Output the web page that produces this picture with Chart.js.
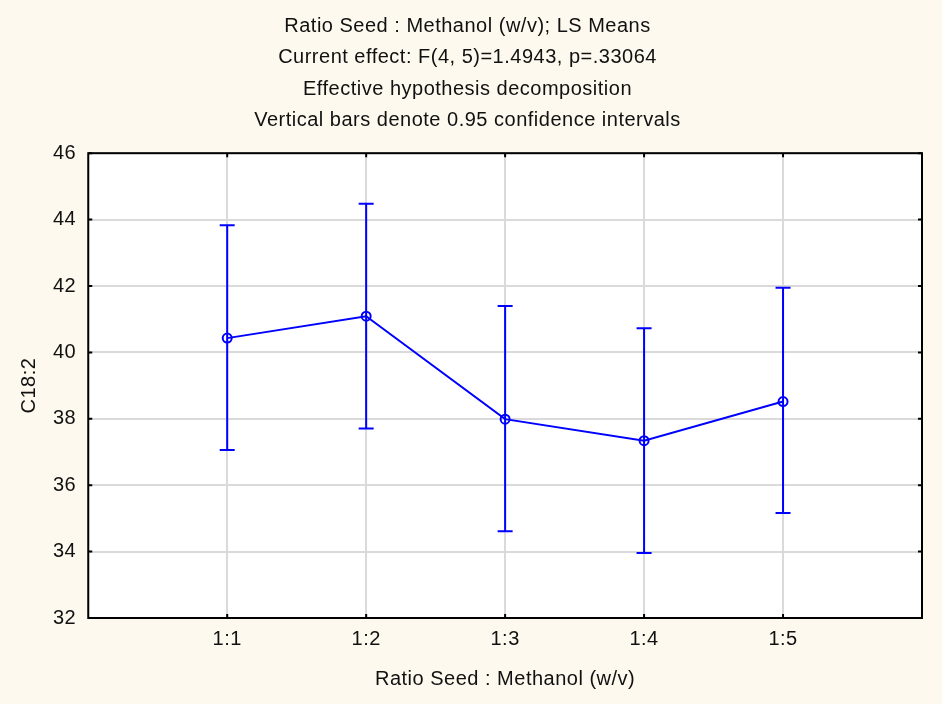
<!DOCTYPE html>
<html>
<head>
<meta charset="utf-8">
<script src="https://cdn.jsdelivr.net/npm/chart.js@4"></script>
<style>
  html, body { margin: 0; padding: 0; background: #fef9ee; }
  canvas { display: block; }
</style>
</head>
<body>
<canvas id="ls-chart" width="942" height="704"></canvas>
<script>
// LS means with 95% confidence intervals
const categories = ["1:1", "1:2", "1:3", "1:4", "1:5"];
const xPositions = [1, 2, 3, 4, 5];
const means = [40.43, 41.09, 37.99, 37.34, 38.52];
const upperCI = [43.83, 44.48, 41.40, 40.73, 41.95];
const lowerCI = [37.06, 37.71, 34.61, 33.96, 35.16];
const yTicks = [32, 34, 36, 38, 40, 42, 44, 46];

const titleLines = [
  "Ratio Seed : Methanol (w/v); LS Means",
  "Current effect: F(4, 5)=1.4943, p=.33064",
  "Effective hypothesis decomposition",
  "Vertical bars denote 0.95 confidence intervals"
];

const FONT = "'Liberation Sans', Arial, sans-serif";
const BLUE = "#0000ff";

// slightly wider text like the original renderer
const spacing = {
  id: "spacing",
  beforeLayout(c){ c.ctx.letterSpacing = "0.5px"; },
  beforeDraw(c){ c.ctx.letterSpacing = "0.5px"; }
};

// white plot area + black frame with inward ticks
const frame = {
  id: "frame",
  beforeDraw(c){
    const a = c.chartArea, ctx = c.ctx;
    ctx.save();
    ctx.fillStyle = "#ffffff";
    ctx.fillRect(a.left, a.top, a.right - a.left, a.bottom - a.top);
    ctx.restore();
  },
  afterDraw(c){
    const a = c.chartArea, ctx = c.ctx;
    const xs = c.scales.x, ys = c.scales.y;
    ctx.save();
    ctx.strokeStyle = "#000";
    ctx.lineWidth = 2;
    ctx.strokeRect(a.left, a.top, a.right - a.left, a.bottom - a.top);
    ctx.beginPath();
    yTicks.forEach(v => {
      const y = ys.getPixelForValue(v);
      ctx.moveTo(a.left, y); ctx.lineTo(a.left + 4, y);
      ctx.moveTo(a.right, y); ctx.lineTo(a.right - 4, y);
    });
    xPositions.forEach(v => {
      const x = xs.getPixelForValue(v);
      ctx.moveTo(x, a.bottom); ctx.lineTo(x, a.bottom - 4);
      ctx.moveTo(x, a.top); ctx.lineTo(x, a.top + 4);
    });
    ctx.stroke();
    ctx.restore();
  }
};

const errorBars = {
  id: "errorBars",
  afterDatasetsDraw(c){
    const ctx = c.ctx, xs = c.scales.x, ys = c.scales.y;
    ctx.save();
    ctx.strokeStyle = BLUE;
    ctx.lineWidth = 2;
    ctx.beginPath();
    xPositions.forEach((v, i) => {
      const x = xs.getPixelForValue(v);
      const yt = ys.getPixelForValue(upperCI[i]);
      const yb = ys.getPixelForValue(lowerCI[i]);
      ctx.moveTo(x, yt); ctx.lineTo(x, yb);
      ctx.moveTo(x - 7.5, yt); ctx.lineTo(x + 7.5, yt);
      ctx.moveTo(x - 7.5, yb); ctx.lineTo(x + 7.5, yb);
    });
    ctx.stroke();
    ctx.restore();
  }
};

new Chart(document.getElementById("ls-chart"), {
  type: "line",
  data: {
    datasets: [{
      data: xPositions.map((x, i) => ({ x, y: means[i] })),
      borderColor: BLUE,
      borderWidth: 2,
      pointRadius: 4.5,
      pointBorderWidth: 2,
      pointBorderColor: BLUE,
      pointBackgroundColor: "rgba(0,0,0,0)",
      tension: 0
    }]
  },
  options: {
    responsive: false,
    animation: false,
    layout: { padding: { left: 13, right: 20, top: 0, bottom: 13 } },
    plugins: {
      legend: { display: false },
      tooltip: { enabled: false },
      title: {
        display: true,
        text: titleLines,
        color: "#111",
        font: { family: FONT, size: 20, weight: "normal", lineHeight: 1.565 },
        padding: { top: 11, bottom: 17 }
      }
    },
    scales: {
      x: {
        type: "linear",
        min: 0, max: 6,
        afterBuildTicks: s => { s.ticks = xPositions.map(v => ({ value: v })); },
        ticks: {
          callback: v => categories[xPositions.indexOf(v)] ?? "",
          color: "#111",
          font: { family: FONT, size: 20 },
          padding: 9,
          maxRotation: 0
        },
        grid: { color: "#dadada", lineWidth: 2, drawTicks: false },
        border: { display: false },
        title: {
          display: true,
          text: "Ratio Seed : Methanol (w/v)",
          color: "#111",
          font: { family: FONT, size: 20 },
          padding: { top: 7, bottom: 0 }
        }
      },
      y: {
        min: 32, max: 46,
        afterBuildTicks: s => { s.ticks = yTicks.map(v => ({ value: v })); },
        ticks: {
          color: "#111",
          font: { family: FONT, size: 20 },
          padding: 12
        },
        grid: { color: "#dadada", lineWidth: 2, drawTicks: false },
        border: { display: false },
        title: {
          display: true,
          text: "C18:2",
          color: "#111",
          font: { family: FONT, size: 20 },
          padding: { top: 4, bottom: 0 }
        }
      }
    }
  },
  plugins: [spacing, frame, errorBars]
});
</script>
</body>
</html>
